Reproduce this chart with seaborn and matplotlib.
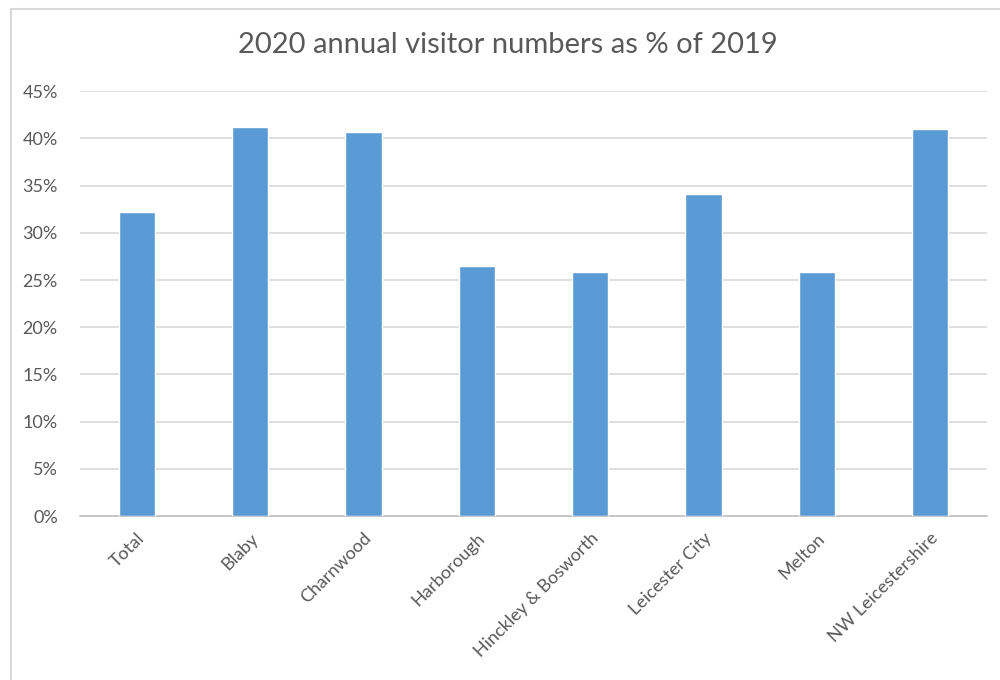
import matplotlib
matplotlib.use("Agg")
import matplotlib.pyplot as plt
import seaborn as sns
import pandas as pd
from matplotlib.patches import Rectangle

# Données
districts = ["Total", "Blaby", "Charnwood", "Harborough",
             "Hinckley & Bosworth", "Leicester City", "Melton",
             "NW Leicestershire"]
pct_of_2019 = [32.2, 41.2, 40.7, 26.5, 25.8, 34.1, 25.8, 41.0]
y_ticks = [0, 5, 10, 15, 20, 25, 30, 35, 40, 45]
y_tick_labels = [f"{t}%" for t in y_ticks]

df = pd.DataFrame({"district": districts, "pct": pct_of_2019})

sns.set_style("white")
plt.rcParams["font.family"] = ["Lato", "DejaVu Sans"]

fig = plt.figure(figsize=(10, 6.8), dpi=100)
ax = fig.add_axes([0.08, 0.241, 0.907, 0.625])

sns.barplot(data=df, x="district", y="pct", color="#5B9BD5",
            width=0.32, saturation=1, ax=ax, zorder=3)

ax.set_ylim(0, 45)
ax.set_xlim(-0.5, len(districts) - 0.5)
ax.set_yticks(y_ticks)
ax.set_yticklabels(y_tick_labels, fontsize=13, color="#595959")
ax.yaxis.grid(True, color="#D9D9D9", linewidth=1.2, zorder=0)
ax.set_axisbelow(True)
ax.tick_params(axis="y", length=0, pad=16)
ax.tick_params(axis="x", length=0, pad=10)

for lbl in ax.get_xticklabels():
    lbl.set_rotation(45)
    lbl.set_ha("right")
    lbl.set_va("top")
    lbl.set_rotation_mode("anchor")
    lbl.set_fontsize(13)
    lbl.set_color("#595959")

for side in ["left", "right", "top"]:
    ax.spines[side].set_visible(False)
ax.spines["bottom"].set_color("#BFBFBF")
ax.spines["bottom"].set_linewidth(1.2)

ax.set_xlabel("")
ax.set_ylabel("")
fig.text(0.508, 0.934, "2020 annual visitor numbers as % of 2019",
         ha="center", va="center", fontsize=21, color="#595959")

# cadre du graphique
fig.patches.append(Rectangle((0.011, -0.05), 1.2, 0.037 + 1.0,
                             transform=fig.transFigure, fill=False,
                             edgecolor="#D9D9D9", linewidth=1.5))

plt.savefig("out.png", dpi=100)
